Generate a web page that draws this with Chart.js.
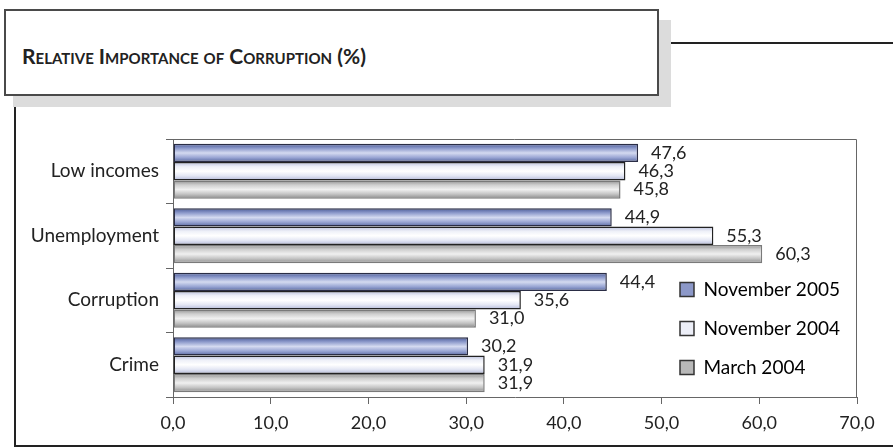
<!DOCTYPE html>
<html>
<head>
<meta charset="utf-8">
<script src="https://cdn.jsdelivr.net/npm/chart.js@4"></script>
<style>
  html, body { margin: 0; padding: 0; background: #fff; }
  #page { position: relative; width: 893px; height: 448px; overflow: hidden; font-family: "Lato", sans-serif; }
  .shadow { position: absolute; left: 13px; top: 20px; width: 658px; height: 87px; background: #dcdcdc; }
  .titlebox { position: absolute; left: 4px; top: 9px; width: 655px; height: 87px; box-sizing: border-box;
    border: 2px solid #4a4a4a; background: #fff; }
  .titlebox span { position: absolute; left: 16px; top: 32px; font-size: 21px; font-weight: 700;
    font-variant: small-caps; color: #222; }
  .rule { position: absolute; left: 671px; top: 42px; width: 222px; height: 2px; background: #222; }
  .frame-left { position: absolute; left: 14px; top: 107px; width: 2px; height: 340px; background: #222; }
  .frame-bottom { position: absolute; left: 14px; top: 445px; width: 879px; height: 2px; background: #222; }
  canvas { position: absolute; left: 0; top: 0; }
</style>
</head>
<body>
<div id="page">
  <div class="shadow"></div>
  <div class="titlebox"><span>Relative Importance of Corruption (%)</span></div>
  <div class="rule"></div>
  <div class="frame-left"></div>
  <div class="frame-bottom"></div>
  <canvas id="chart" width="893" height="448"></canvas>
</div>
<script>
// chart data
const categories = ["Low incomes", "Unemployment", "Corruption", "Crime"];
const seriesNames = ["November 2005", "November 2004", "March 2004"];
const nov2005 = [47.6, 44.9, 44.4, 30.2];
const nov2004 = [46.3, 55.3, 35.6, 31.9];
const mar2004 = [45.8, 60.3, 31.0, 31.9];
const xTicks = [0, 10, 20, 30, 40, 50, 60, 70];

// bar looks: gradient stops across the bar thickness
const looks = [
  { stops: ["#4b5b98", "#8e9bcc", "#d4daf0", "#9aa6d4", "#56669f"], solid: "#8c98c8", border: "#2a2d45" },
  { stops: ["#b9bfdc", "#eef0f8", "#ffffff", "#e4e7f4", "#b3b9d8"], solid: "#eceef7", border: "#222" },
  { stops: ["#8f8f8f", "#cfcfcf", "#f0f0f0", "#c4c4c4", "#8a8a8a"], solid: "#b8b8b8", border: "#7a7a7a" },
];

const fmt = v => v.toFixed(1).replace(".", ",");
const FONT = "Lato, sans-serif";

// paint each bar with a gradient across its thickness
const barGradient = {
  id: "barGradient",
  beforeDatasetsDraw(chart) {
    const ctx = chart.ctx;
    chart.data.datasets.forEach((ds, di) => {
      const look = looks[di];
      chart.getDatasetMeta(di).data.forEach(bar => {
        const top = bar.y - bar.height / 2;
        const g = ctx.createLinearGradient(0, top, 0, top + bar.height);
        look.stops.forEach((c, i) => g.addColorStop(i / (look.stops.length - 1), c));
        bar.options.backgroundColor = g;
      });
    });
  }
};

// value labels to the right of the bars
const valueLabels = {
  id: "valueLabels",
  afterDatasetsDraw(chart) {
    const ctx = chart.ctx;
    ctx.save();
    ctx.font = "18px " + FONT;
    ctx.fillStyle = "#222";
    ctx.textBaseline = "middle";
    ctx.textAlign = "left";
    chart.data.datasets.forEach((ds, di) => {
      chart.getDatasetMeta(di).data.forEach((bar, i) => {
        ctx.fillText(fmt(ds.data[i]), bar.x + 13, bar.y);
      });
    });
    ctx.restore();
  }
};

// top and right edge of the plot box
const plotFrame = {
  id: "plotFrame",
  beforeDatasetsDraw(chart) {
    const { left, top, right, bottom } = chart.chartArea;
    const ctx = chart.ctx;
    ctx.save();
    ctx.strokeStyle = "#666";
    ctx.lineWidth = 1;
    ctx.beginPath();
    ctx.moveTo(left, top + 0.5);
    ctx.lineTo(right - 0.5, top + 0.5);
    ctx.lineTo(right - 0.5, bottom);
    ctx.stroke();
    ctx.restore();
  }
};

// move the legend into the lower right of the plot
const legendPlace = {
  id: "legendPlace",
  afterLayout(chart) {
    const lg = chart.legend;
    if (!lg) return;
    lg.left = 660;
    lg.top = 260;
    lg.right = lg.left + lg.width;
    lg.bottom = lg.top + lg.height;
  }
};

const ctx = document.getElementById("chart").getContext("2d");
new Chart(ctx, {
  type: "bar",
  data: {
    labels: categories,
    datasets: [nov2005, nov2004, mar2004].map((vals, i) => ({
      label: seriesNames[i],
      data: vals,
      // a function so every bar gets its own options object (for its gradient)
      backgroundColor: () => looks[i].solid,
      borderColor: looks[i].border,
      borderWidth: 1.5,
      borderSkipped: false,
      categoryPercentage: 0.85,
      barPercentage: 1.0,
    })),
  },
  options: {
    indexAxis: "y",
    responsive: false,
    animation: false,
    layout: { padding: { top: 139, right: 36, left: 0, bottom: 0 } },
    plugins: {
      tooltip: { enabled: false },
      legend: {
        position: "chartArea",
        align: "start",
        labels: {
          font: { family: FONT, size: 19 },
          color: "#222",
          boxWidth: 14,
          boxHeight: 14,
          padding: 20,
          generateLabels: chart => chart.data.datasets.map((ds, i) => ({
            text: ds.label,
            fillStyle: looks[i].solid,
            strokeStyle: "#333",
            lineWidth: 1.5,
            datasetIndex: i,
          })),
        },
      },
    },
    scales: {
      x: {
        min: xTicks[0],
        max: xTicks[xTicks.length - 1],
        afterFit: s => { s.height = 51; },
        ticks: {
          stepSize: xTicks[1] - xTicks[0],
          callback: v => fmt(v),
          font: { family: FONT, size: 18 },
          color: "#222",
          padding: 8,
        },
        grid: { drawOnChartArea: false, tickLength: 7, color: "#666" },
        border: { color: "#666", width: 1 },
      },
      y: {
        afterFit: s => { s.width = 173; },
        ticks: { font: { family: FONT, size: 19 }, color: "#222", padding: 7 },
        grid: { drawOnChartArea: false, offset: true, tickLength: 7, color: "#666" },
        border: { color: "#666", width: 1 },
      },
    },
  },
  plugins: [barGradient, valueLabels, plotFrame, legendPlace],
});
</script>
</body>
</html>
